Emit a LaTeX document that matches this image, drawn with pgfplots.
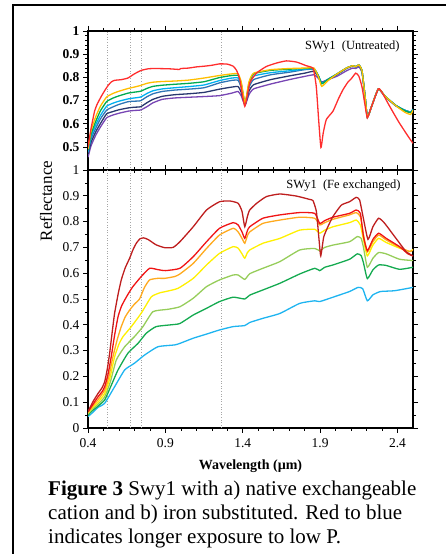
\documentclass[border=0pt]{standalone}
\usepackage{fontspec}
\setmainfont{Liberation Serif}
\usepackage{pgfplots}
\usepackage{pgfplotstable}
\pgfplotsset{compat=1.18}

\definecolor{cRed}{RGB}{255,45,45}
\definecolor{cGold}{RGB}{255,190,0}
\definecolor{cGreen}{RGB}{0,170,80}
\definecolor{cCyan}{RGB}{0,176,240}
\definecolor{cBlue}{RGB}{46,117,182}
\definecolor{cNavy}{RGB}{40,55,110}
\definecolor{cPurple}{RGB}{120,70,180}
\definecolor{bDark}{RGB}{190,30,30}
\definecolor{bRed}{RGB}{240,20,20}
\definecolor{bOrange}{RGB}{255,170,30}
\definecolor{bYellow}{RGB}{255,240,0}
\definecolor{bLight}{RGB}{150,205,90}
\definecolor{bGreen}{RGB}{20,170,80}
\definecolor{bSky}{RGB}{30,180,240}

% untreated, all but the red curve
\pgfplotstableread{
x      G     Gr    C     B     N     P
0.40   0.49  0.485 0.48  0.475 0.47  0.455
0.42   0.57  0.555 0.545 0.535 0.52  0.505
0.45   0.63  0.61  0.595 0.58  0.565 0.55
0.48   0.675 0.655 0.635 0.62  0.60  0.585
0.52   0.715 0.695 0.675 0.658 0.642 0.625
0.56   0.73  0.71  0.688 0.672 0.652 0.637
0.60   0.74  0.72  0.697 0.683 0.66  0.645
0.66   0.752 0.732 0.707 0.695 0.668 0.654
0.70   0.758 0.736 0.711 0.697 0.671 0.657
0.74   0.765 0.74  0.715 0.699 0.673 0.659
0.78   0.774 0.752 0.73  0.716 0.69  0.673
0.82   0.779 0.761 0.742 0.729 0.705 0.69
0.88   0.782 0.766 0.75  0.739 0.718 0.705
0.96   0.784 0.77  0.755 0.745 0.725 0.711
1.05   0.788 0.774 0.76  0.749 0.729 0.714
1.15   0.797 0.781 0.767 0.755 0.735 0.717
1.25   0.808 0.799 0.786 0.776 0.749 0.721
1.33   0.815 0.808 0.797 0.787 0.758 0.732
1.37   0.815 0.808 0.797 0.787 0.76  0.739
1.39   0.78  0.775 0.765 0.755 0.735 0.72
1.415  0.69  0.688 0.686 0.684 0.683 0.68
1.44   0.78  0.775 0.765 0.755 0.74  0.725
1.47   0.818 0.815 0.805 0.79  0.768 0.75
1.58   0.833 0.83  0.82  0.811 0.79  0.771
1.70   0.838 0.835 0.828 0.822 0.806 0.79
1.80   0.84  0.838 0.835 0.833 0.818 0.804
1.86   0.84  0.838 0.836 0.834 0.826 0.811
1.89   0.80  0.805 0.805 0.805 0.80  0.795
1.91   0.761 0.772 0.775 0.775 0.777 0.78
1.95   0.785 0.79  0.79  0.792 0.79  0.79
2.01   0.815 0.815 0.815 0.815 0.812 0.805
2.07   0.84  0.84  0.84  0.84  0.838 0.828
2.11   0.85  0.85  0.85  0.85  0.848 0.84
2.13   0.846 0.846 0.846 0.846 0.845 0.838
2.15   0.854 0.854 0.854 0.854 0.852 0.845
2.17   0.83  0.83  0.83  0.83  0.828 0.822
2.19   0.72  0.72  0.72  0.72  0.72  0.72
2.205  0.628 0.628 0.628 0.628 0.628 0.632
2.23   0.67  0.67  0.67  0.67  0.67  0.67
2.276  0.75  0.75  0.75  0.75  0.75  0.748
2.32   0.718 0.718 0.718 0.718 0.718 0.715
2.39   0.677 0.678 0.678 0.678 0.678 0.676
2.45   0.648 0.655 0.657 0.657 0.657 0.655
2.485  0.64  0.648 0.65  0.65  0.65  0.648
2.50   0.658 0.66  0.662 0.662 0.662 0.66
}\untreated

\begin{document}
\begin{tikzpicture}
\useasboundingbox (0pt,0pt) rectangle (446pt,554pt);
\draw[line width=2pt] (13pt,0pt) -- (13pt,549pt) -- (446pt,549pt);

\pgfplotsset{
  panel/.style={
    scale only axis, width=325pt, anchor=south west,
    xmin=0.4, xmax=2.5,
    xtick={0.4,0.9,1.4,1.9,2.4}, minor x tick num=4,
    axis line style={line width=1.6pt},
    tick align=outside, major tick length=5pt, minor tick length=3pt,
    every tick/.style={black, line width=0.6pt},
    tick label style={font=\fontsize{13.5}{14}\selectfont},
    /pgf/number format/assume math mode=true,
    clip=true,
  },
  vline/.style={gray!70, dotted, line width=0.6pt},
  spec/.style={line width=1.3pt, smooth, tension=0.3},
}

% a) untreated
\begin{axis}[panel, at={(88pt,384pt)}, height=139pt,
  ymin=0.4, ymax=1,
  xticklabels={},
  ytick={0.5,0.6,0.7,0.8,0.9,1},
  yticklabels={0.5,0.6,0.7,0.8,0.9,1},
  yticklabel style={font=\fontsize{13.5}{14}\selectfont\bfseries},
  minor y tick num=4,
]
\addplot[vline] coordinates {(0.525,0.4) (0.525,1)};
\addplot[vline] coordinates {(0.675,0.4) (0.675,1)};
\addplot[vline] coordinates {(0.745,0.4) (0.745,1)};
\addplot[vline] coordinates {(1.26,0.4) (1.26,1)};
\addplot[spec, cPurple] table[y=P] {\untreated};
\addplot[spec, cNavy] table[y=N] {\untreated};
\addplot[spec, cBlue] table[y=B] {\untreated};
\addplot[spec, cCyan] table[y=C] {\untreated};
\addplot[spec, cGreen] table[y=Gr] {\untreated};
\addplot[spec, cGold] table[y=G] {\untreated};
\addplot[spec, cRed] table {
0.40 0.50
0.42 0.58
0.443 0.655
0.46 0.685
0.486 0.718
0.51 0.745
0.529 0.764
0.55 0.78
0.572 0.787
0.615 0.79
0.658 0.797
0.70 0.815
0.744 0.83
0.79 0.837
0.83 0.838
0.92 0.837
0.99 0.834
1.00 0.838
1.05 0.84
1.10 0.845
1.15 0.848
1.20 0.852
1.25 0.858
1.30 0.857
1.338 0.848
1.36 0.83
1.381 0.79
1.413 0.675
1.445 0.775
1.488 0.818
1.553 0.847
1.62 0.862
1.682 0.871
1.747 0.866
1.811 0.85
1.855 0.838
1.875 0.76
1.89 0.62
1.905 0.497
1.92 0.56
1.94 0.618
1.983 0.654
2.02 0.71
2.048 0.747
2.08 0.78
2.10 0.793
2.13 0.818
2.15 0.805
2.17 0.76
2.19 0.68
2.205 0.625
2.23 0.67
2.276 0.75
2.30 0.735
2.345 0.68
2.41 0.605
2.474 0.54
2.50 0.515
};
\node[anchor=north east, font=\fontsize{12.5}{13}\selectfont]
  at (rel axis cs:1,1) [xshift=-10pt, yshift=-6pt] {SWy1\enspace(Untreated)};
\end{axis}

% b) Fe exchanged
\begin{axis}[panel, at={(88pt,126pt)}, height=258pt,
  ymin=0, ymax=1,
  ytick={0,0.1,0.2,0.3,0.4,0.5,0.6,0.7,0.8,0.9,1},
  yticklabels={0,0.1,0.2,0.3,0.4,0.5,0.6,0.7,0.8,0.9,1},
  minor y tick num=1,
  xticklabels={0.4,0.9,1.4,1.9,2.4},
  xticklabel style={yshift=-2pt},
  xlabel={\bfseries Wavelength (µm)},
  xlabel style={font=\fontsize{14}{15}\selectfont, at={(axis description cs:0.5,0)}, anchor=center, yshift=-38pt},
]
\addplot[vline] coordinates {(0.525,0) (0.525,1)};
\addplot[vline] coordinates {(0.675,0) (0.675,1)};
\addplot[vline] coordinates {(0.745,0) (0.745,1)};
\addplot[vline] coordinates {(1.26,0) (1.26,1)};
\addplot[spec, bSky] table {
0.40 0.044
0.43 0.06
0.465 0.08
0.508 0.096
0.572 0.16
0.637 0.225
0.70 0.251
0.766 0.283
0.852 0.315
0.96 0.322
0.994 0.328
1.08 0.348
1.166 0.364
1.25 0.38
1.338 0.393
1.413 0.397
1.445 0.409
1.53 0.425
1.64 0.444
1.768 0.483
1.865 0.493
1.897 0.49
1.983 0.507
2.09 0.529
2.145 0.545
2.175 0.54
2.205 0.493
2.241 0.516
2.29 0.529
2.38 0.532
2.50 0.545
};
\addplot[spec, bGreen] table {
0.40 0.05
0.43 0.068
0.465 0.085
0.508 0.109
0.55 0.165
0.594 0.225
0.658 0.29
0.723 0.328
0.776 0.367
0.84 0.393
0.937 0.40
0.994 0.405
1.08 0.438
1.166 0.464
1.25 0.49
1.338 0.507
1.413 0.50
1.445 0.515
1.53 0.535
1.64 0.561
1.768 0.597
1.865 0.619
1.897 0.61
1.93 0.623
1.983 0.632
2.09 0.654
2.14 0.675
2.165 0.668
2.18 0.64
2.205 0.579
2.241 0.613
2.278 0.632
2.327 0.63
2.413 0.615
2.50 0.623
};
\addplot[spec, bLight] table {
0.40 0.055
0.43 0.075
0.465 0.092
0.508 0.121
0.545 0.18
0.583 0.264
0.637 0.315
0.70 0.354
0.755 0.393
0.82 0.451
0.916 0.46
0.994 0.47
1.08 0.503
1.166 0.548
1.25 0.574
1.338 0.593
1.37 0.593
1.413 0.576
1.445 0.598
1.53 0.619
1.64 0.645
1.768 0.69
1.865 0.696
1.897 0.687
1.93 0.70
1.983 0.709
2.09 0.722
2.14 0.742
2.165 0.735
2.18 0.70
2.205 0.623
2.241 0.658
2.278 0.68
2.327 0.675
2.413 0.654
2.50 0.649
};
\addplot[spec, bYellow] table {
0.40 0.058
0.43 0.08
0.465 0.10
0.508 0.134
0.54 0.19
0.572 0.276
0.60 0.325
0.626 0.354
0.68 0.393
0.744 0.445
0.81 0.509
0.87 0.525
0.895 0.528
0.98 0.541
1.08 0.58
1.166 0.632
1.25 0.677
1.338 0.703
1.37 0.697
1.395 0.675
1.413 0.658
1.43 0.68
1.445 0.69
1.53 0.716
1.64 0.735
1.768 0.767
1.865 0.77
1.897 0.755
1.93 0.767
1.983 0.78
2.09 0.796
2.133 0.806
2.16 0.787
2.18 0.73
2.205 0.667
2.241 0.709
2.278 0.735
2.327 0.719
2.413 0.697
2.48 0.684
2.50 0.693
};
\addplot[spec, bOrange] table {
0.40 0.06
0.43 0.085
0.465 0.11
0.508 0.147
0.535 0.20
0.561 0.276
0.59 0.345
0.615 0.393
0.64 0.43
0.669 0.457
0.70 0.48
0.733 0.50
0.765 0.545
0.798 0.574
0.85 0.58
0.895 0.58
0.96 0.587
0.994 0.597
1.08 0.638
1.166 0.696
1.25 0.748
1.338 0.774
1.37 0.76
1.395 0.735
1.413 0.716
1.43 0.745
1.445 0.76
1.53 0.793
1.64 0.806
1.768 0.817
1.865 0.813
1.897 0.787
1.93 0.796
1.983 0.809
2.09 0.826
2.133 0.835
2.16 0.819
2.18 0.75
2.205 0.683
2.241 0.722
2.278 0.748
2.327 0.729
2.413 0.70
2.48 0.684
2.50 0.69
};
\addplot[spec, bRed] table {
0.40 0.063
0.43 0.09
0.465 0.121
0.49 0.14
0.508 0.16
0.53 0.21
0.55 0.276
0.572 0.36
0.594 0.431
0.615 0.47
0.637 0.496
0.66 0.52
0.69 0.548
0.744 0.587
0.798 0.619
0.85 0.614
0.90 0.61
0.994 0.619
1.08 0.664
1.166 0.722
1.25 0.774
1.338 0.796
1.37 0.787
1.395 0.76
1.413 0.735
1.43 0.765
1.445 0.78
1.53 0.813
1.64 0.826
1.768 0.835
1.865 0.832
1.897 0.793
1.93 0.804
1.983 0.817
2.09 0.832
2.133 0.845
2.16 0.832
2.18 0.742
2.205 0.687
2.241 0.731
2.278 0.755
2.327 0.735
2.413 0.703
2.467 0.675
2.50 0.667
};
\addplot[spec, bDark] table {
0.40 0.063
0.43 0.10
0.465 0.134
0.49 0.155
0.508 0.18
0.525 0.23
0.54 0.29
0.556 0.37
0.572 0.445
0.595 0.52
0.615 0.574
0.64 0.62
0.669 0.658
0.69 0.69
0.712 0.716
0.735 0.733
0.76 0.737
0.79 0.73
0.84 0.71
0.895 0.699
0.95 0.70
0.994 0.722
1.08 0.78
1.166 0.845
1.25 0.877
1.316 0.88
1.37 0.871
1.395 0.84
1.413 0.78
1.43 0.82
1.445 0.845
1.49 0.871
1.553 0.897
1.64 0.907
1.746 0.899
1.832 0.886
1.854 0.881
1.876 0.838
1.893 0.729
1.904 0.667
1.923 0.74
1.95 0.78
1.983 0.82
2.037 0.864
2.09 0.877
2.133 0.894
2.155 0.884
2.177 0.82
2.209 0.731
2.241 0.78
2.278 0.813
2.316 0.794
2.39 0.735
2.455 0.684
2.50 0.667
};
\node[anchor=north east, font=\fontsize{12.5}{13}\selectfont]
  at (rel axis cs:1,1) [xshift=-9pt, yshift=-6pt] {SWy1\enspace(Fe exchanged)};
\end{axis}

\node[rotate=90, font=\fontsize{17}{18}\selectfont] at (46pt,353pt) {Reflectance};

\begin{scope}[every node/.style={anchor=base west, inner sep=0pt, font=\fontsize{21}{24}\selectfont}]
\node at (48pt,58pt) {\textbf{Figure 3} Swy1 with a) native exchangeable};
\node at (48pt,34pt) {cation and b) iron substituted. Red to blue};
\node at (48pt,10pt) {indicates longer exposure to low P.};
\end{scope}
\end{tikzpicture}
\end{document}
